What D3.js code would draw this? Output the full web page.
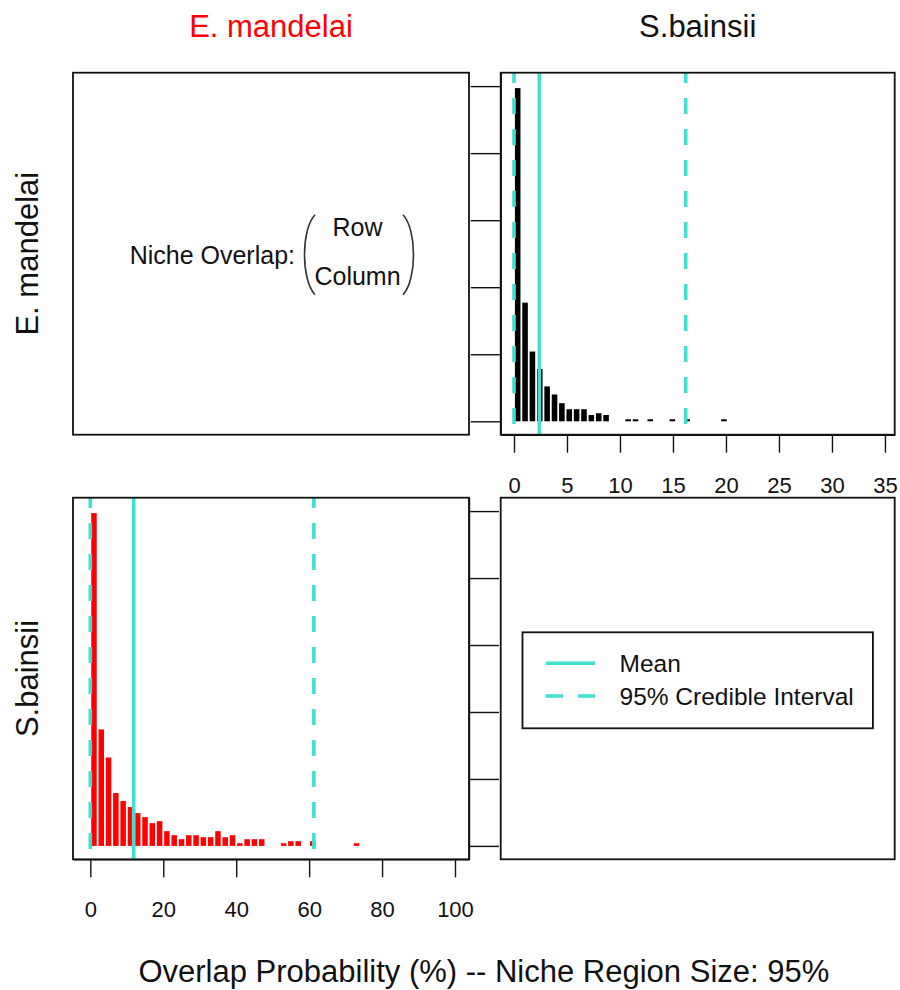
<!DOCTYPE html>
<html>
<head>
<meta charset="utf-8">
<script src="https://cdn.jsdelivr.net/npm/d3@7"></script>
<style>
  body { margin: 0; background: #fff; }
  svg { display: block; font-family: "Liberation Sans", Arial, sans-serif; }
</style>
</head>
<body>
<svg id="chart" width="900" height="990"></svg>
<script>
// species (rows and columns of the matrix)
const species = ["E. mandelai", "S.bainsii"];
const speciesColors = ["#FF0000", "#000000"];

// histogram of overlap of E. mandelai onto S.bainsii (top right), bin width in %
const binWidthTopRight = 0.695;
const densityTopRight = [0.497, 0.177, 0.104, 0.078, 0.052, 0.040, 0.027, 0.018, 0.018, 0.018,
  0.0094, 0.012, 0.0094, 0, 0, 0.003, 0.003, 0, 0.003, 0, 0, 0.003, 0, 0.003, 0, 0, 0, 0, 0.003];

// histogram of overlap of S.bainsii onto E. mandelai (bottom left)
const binWidthBottomLeft = 2;
const densityBottomLeft = [0.497, 0.174, 0.132, 0.079, 0.067, 0.058, 0.049, 0.043, 0.034, 0.037,
  0.022, 0.016, 0.010, 0.016, 0.016, 0.013, 0.013, 0.022, 0.013, 0.016,
  0.004, 0.010, 0.010, 0.010, 0, 0, 0.004, 0.007, 0.007, 0, 0.007, 0, 0, 0, 0, 0, 0.004];

// mean and 95% credible interval: [top right, bottom left]
const overlapMean = [2.39, 11.9];
const overlapLower = [0, 0];
const overlapUpper = [16.2, 61.3];

// tick labels
const xTicksTopRight = [0, 5, 10, 15, 20, 25, 30, 35];
const xTicksBottomLeft = [0, 20, 40, 60, 80, 100];
const yTicks = [0, 0.1, 0.2, 0.3, 0.4, 0.5];

const legendLabels = ["Mean", "95% Credible Interval"];
const xLabel = "Overlap Probability (%) -- Niche Region Size: 95%";

// layout
const colX = [[73, 469], [500.7, 894.7]];
const rowY = [[72.7, 434.7], [497.7, 859.3]];
const lineCol = "#40E0D0";
const svg = d3.select("#chart");

// clip paths for each panel
const defs = svg.append("defs");
[0, 1].forEach(r => [0, 1].forEach(c => {
    defs.append("clipPath").attr("id", `clip${r}${c}`)
        .append("rect")
        .attr("x", colX[c][0]).attr("y", rowY[r][0])
        .attr("width", colX[c][1] - colX[c][0])
        .attr("height", rowY[r][1] - rowY[r][0]);
}));

function drawHist(r, c, density, binWidth, xDomain, xTicks, fill, k, ySide) {
    const x = d3.scaleLinear().domain(xDomain).range(colX[c]);
    const y = d3.scaleLinear().domain([-0.02, 0.52]).range([rowY[r][1], rowY[r][0]]);
    const g = svg.append("g").attr("clip-path", `url(#clip${r}${c})`);

    // bars
    g.selectAll("rect.bar")
        .data(density)
        .enter()
        .append("rect")
        .attr("class", "bar")
        .attr("x", (d, i) => x(i * binWidth) + 0.9)
        .attr("width", x(binWidth) - x(0) - 1.8)
        .attr("y", d => y(d))
        .attr("height", d => y(0) - y(d))
        .attr("fill", fill);

    // mean + credible interval
    const lines = [
        { v: overlapMean[k], dash: null },
        { v: overlapLower[k], dash: "16,15" },
        { v: overlapUpper[k], dash: "16,15" }
    ];
    g.selectAll("line.stat")
        .data(lines)
        .enter()
        .append("line")
        .attr("class", "stat")
        .attr("x1", d => x(d.v)).attr("x2", d => x(d.v))
        .attr("y1", rowY[r][0]).attr("y2", rowY[r][1])
        .attr("stroke", lineCol)
        .attr("stroke-width", 3.6)
        .attr("stroke-dasharray", d => d.dash)
        .attr("stroke-dashoffset", 5.7);

    // x axis
    const xa = svg.append("g")
        .attr("transform", `translate(0,${rowY[r][1]})`)
        .call(d3.axisBottom(x).tickValues(xTicks).tickSize(18).tickSizeOuter(0));
    xa.selectAll("text").attr("y", 58).attr("dy", null)
        .style("font-size", "22px").style("font-family", null).attr("fill", "#111");

    // y axis without labels
    const axis = ySide === "left" ? d3.axisLeft(y) : d3.axisRight(y);
    const ya = svg.append("g")
        .attr("transform", `translate(${ySide === "left" ? colX[c][0] : colX[c][1]},0)`)
        .call(axis.tickValues(yTicks).tickSize(30).tickSizeOuter(0).tickFormat(""));

    [xa, ya].forEach(a => {
        a.selectAll("line").attr("stroke", "#111").attr("stroke-width", 1.4);
        a.select(".domain").attr("stroke", "#111").attr("stroke-width", 1.4);
    });
}

drawHist(0, 1, densityTopRight, binWidthTopRight, [-1.255, 35.92], xTicksTopRight, speciesColors[1], 0, "left");
drawHist(1, 0, densityBottomLeft, binWidthBottomLeft, [-4.75, 103.84], xTicksBottomLeft, speciesColors[0], 1, "right");

// panel boxes
[0, 1].forEach(r => [0, 1].forEach(c => {
    svg.append("rect")
        .attr("x", colX[c][0]).attr("y", rowY[r][0])
        .attr("width", colX[c][1] - colX[c][0])
        .attr("height", rowY[r][1] - rowY[r][0])
        .attr("fill", "none").attr("stroke", "#111").attr("stroke-width", 1.8);
}));

// column titles and row labels
species.forEach((s, i) => {
    const cx = (colX[i][0] + colX[i][1]) / 2;
    svg.append("text")
        .attr("x", cx).attr("y", 37)
        .attr("text-anchor", "middle")
        .style("font-size", "31px")
        .attr("fill", i === 0 ? speciesColors[0] : "#111")
        .text(s);
    const cy = (rowY[i][0] + rowY[i][1]) / 2;
    svg.append("text")
        .attr("transform", `translate(38,${cy}) rotate(-90)`)
        .attr("text-anchor", "middle")
        .style("font-size", "31px")
        .attr("fill", "#111")
        .text(s);
});

// niche overlap annotation in the top-left panel
const ncx = (colX[0][0] + colX[0][1]) / 2;
const ncy = (rowY[0][0] + rowY[0][1]) / 2;
const note = svg.append("g").attr("transform", `translate(${ncx},${ncy})`).style("font-size", "25px").attr("fill", "#111");
note.append("text").attr("x", 24).attr("y", 10).attr("text-anchor", "end").text("Niche Overlap:");
note.append("text").attr("x", 86.5).attr("y", -17.5).attr("text-anchor", "middle").text("Row");
note.append("text").attr("x", 86.5).attr("y", 31).attr("text-anchor", "middle").text("Column");
note.append("path")
    .attr("d", "M44,-39 C30,-24 30,26 44,41")
    .attr("fill", "none").attr("stroke", "#333").attr("stroke-width", 1.6);
note.append("path")
    .attr("d", "M132,-39 C146,-24 146,26 132,41")
    .attr("fill", "none").attr("stroke", "#333").attr("stroke-width", 1.6);

// legend in the bottom-right panel
const lcx = (colX[1][0] + colX[1][1]) / 2;
const lcy = (rowY[1][0] + rowY[1][1]) / 2;
const legend = svg.append("g").attr("transform", `translate(${lcx},${lcy})`);
legend.append("rect")
    .attr("x", -175.2).attr("y", -46.2).attr("width", 350.4).attr("height", 96)
    .attr("fill", "none").attr("stroke", "#111").attr("stroke-width", 1.8);
legendLabels.forEach((lab, i) => {
    const ly = -15.2 + i * 32.7;
    legend.append("line")
        .attr("x1", -152).attr("x2", -102.5).attr("y1", ly).attr("y2", ly)
        .attr("stroke", lineCol).attr("stroke-width", 3.6)
        .attr("stroke-dasharray", i === 0 ? null : "17.5,15");
    legend.append("text")
        .attr("x", -78.2).attr("y", ly + 8.8)
        .style("font-size", "24.5px").attr("fill", "#111")
        .text(lab);
});

// shared x label
svg.append("text")
    .attr("x", (colX[0][0] + colX[1][1]) / 2).attr("y", 982)
    .attr("text-anchor", "middle")
    .style("font-size", "31px").attr("fill", "#111")
    .text(xLabel);
</script>
</body>
</html>
